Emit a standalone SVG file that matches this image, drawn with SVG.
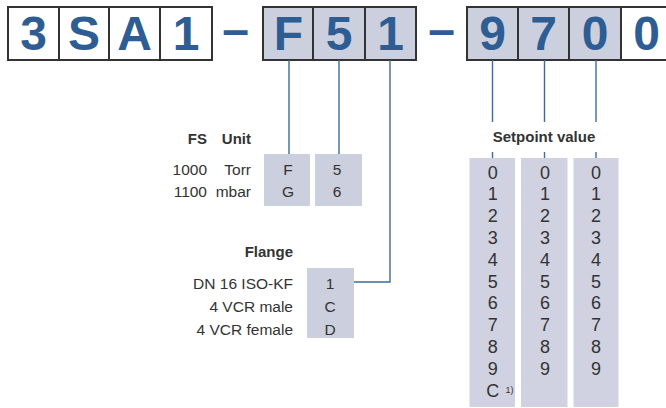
<svg xmlns="http://www.w3.org/2000/svg" width="666" height="408" viewBox="0 0 666 408">
<style>
.big{font-family:"Liberation Sans",Arial,sans-serif;font-weight:bold;font-size:48px;fill:#2d5d93;text-anchor:middle}
.box{stroke:#333;stroke-width:2}
.w{fill:#fff}
.g{fill:#cccfdd}
.col{fill:#d0d2e1}
.t{font-family:"Liberation Sans",Arial,sans-serif;font-size:15.5px;fill:#333}
.b{font-family:"Liberation Sans",Arial,sans-serif;font-size:15px;font-weight:bold;fill:#333}
.r{text-anchor:end}
.m{text-anchor:middle}
.c{font-family:"Liberation Sans",Arial,sans-serif;font-size:18px;fill:#333;text-anchor:middle}
.ln{stroke:#3d6b9b;stroke-width:1.4;fill:none}
</style>
<g id="code">
<g id="grp1">
<rect class="box w" x="8" y="7" width="204" height="53"/>
<line class="box" x1="59" y1="7" x2="59" y2="60"/>
<line class="box" x1="109" y1="7" x2="109" y2="60"/>
<line class="box" x1="160" y1="7" x2="160" y2="60"/>
<text class="big" x="33.5" y="50">3</text>
<text class="big" x="84" y="50">S</text>
<text class="big" x="134.5" y="50">A</text>
<text class="big" x="186" y="50">1</text>
</g>
<text class="big" x="235.5" y="46">–</text>
<g id="grp2">
<rect class="box g" x="263" y="7" width="153" height="53"/>
<line class="box" x1="313" y1="7" x2="313" y2="60"/>
<line class="box" x1="365" y1="7" x2="365" y2="60"/>
<text class="big" x="288.5" y="50">F</text>
<text class="big" x="339" y="50">5</text>
<text class="big" x="390.5" y="50">1</text>
</g>
<text class="big" x="441.5" y="46">–</text>
<g id="grp3">
<rect class="box g" x="467" y="7" width="154" height="53"/>
<rect class="box w" x="621" y="7" width="52" height="53"/>
<line class="box" x1="518" y1="7" x2="518" y2="60"/>
<line class="box" x1="569" y1="7" x2="569" y2="60"/>
<text class="big" x="492.5" y="50">9</text>
<text class="big" x="543.5" y="50">7</text>
<text class="big" x="595" y="50">0</text>
<text class="big" x="646.5" y="50">0</text>
</g>
</g>
<g id="connectors">
<line class="ln" x1="289" y1="60" x2="289" y2="154"/>
<line class="ln" x1="339" y1="60" x2="339" y2="154"/>
<polyline class="ln" points="390,60 390,282 354,282"/>
<line class="ln" x1="492.5" y1="60" x2="492.5" y2="122"/>
<line class="ln" x1="544.5" y1="60" x2="544.5" y2="122"/>
<line class="ln" x1="596" y1="60" x2="596" y2="122"/>
<line class="ln" x1="492.5" y1="152" x2="492.5" y2="158"/>
<line class="ln" x1="544.5" y1="152" x2="544.5" y2="158"/>
<line class="ln" x1="596" y1="152" x2="596" y2="158"/>
</g>
<g id="unit">
<text class="b r" x="207" y="144">FS</text>
<text class="b r" x="251" y="144">Unit</text>
<text class="t r" x="207" y="175">1000</text>
<text class="t r" x="251" y="175">Torr</text>
<text class="t r" x="207" y="197">1100</text>
<text class="t r" x="251" y="197">mbar</text>
<rect class="g" x="264" y="154" width="46" height="52"/>
<rect class="g" x="315" y="154" width="47" height="52"/>
<text class="t m" x="288" y="175">F</text>
<text class="t m" x="337" y="175">5</text>
<text class="t m" x="288" y="197">G</text>
<text class="t m" x="337" y="197">6</text>
</g>
<g id="flange">
<text class="b r" x="293" y="257">Flange</text>
<text class="t r" x="293" y="289">DN 16 ISO-KF</text>
<text class="t r" x="293" y="312">4 VCR male</text>
<text class="t r" x="293" y="335">4 VCR female</text>
<rect class="g" x="307" y="268" width="47" height="70"/>
<text class="t m" x="330" y="289">1</text>
<text class="t m" x="330" y="312">C</text>
<text class="t m" x="330" y="335">D</text>
</g>
<g id="setpoint">
<text class="b m" x="544" y="142">Setpoint value</text>
<rect class="col" x="469.5" y="158" width="45.5" height="249"/>
<rect class="col" x="521" y="158" width="46.5" height="249"/>
<rect class="col" x="573.5" y="158" width="45" height="249"/>
<g class="c">
<text x="492.7" y="178.5">0</text><text x="492.7" y="200.3">1</text><text x="492.7" y="222">2</text><text x="492.7" y="244">3</text><text x="492.7" y="265.7">4</text><text x="492.7" y="287.5">5</text><text x="492.7" y="309.3">6</text><text x="492.7" y="331">7</text><text x="492.7" y="353">8</text><text x="492.7" y="374.6">9</text><text x="492.7" y="396.5">C</text>
<text x="545" y="178.5">0</text><text x="545" y="200.3">1</text><text x="545" y="222">2</text><text x="545" y="244">3</text><text x="545" y="265.7">4</text><text x="545" y="287.5">5</text><text x="545" y="309.3">6</text><text x="545" y="331">7</text><text x="545" y="353">8</text><text x="545" y="374.6">9</text>
<text x="596" y="178.5">0</text><text x="596" y="200.3">1</text><text x="596" y="222">2</text><text x="596" y="244">3</text><text x="596" y="265.7">4</text><text x="596" y="287.5">5</text><text x="596" y="309.3">6</text><text x="596" y="331">7</text><text x="596" y="353">8</text><text x="596" y="374.6">9</text>
</g>
<text x="505.5" y="393" style="font-family:'Liberation Sans',Arial,sans-serif;font-size:9px;fill:#333">1)</text>
</g>
</svg>
